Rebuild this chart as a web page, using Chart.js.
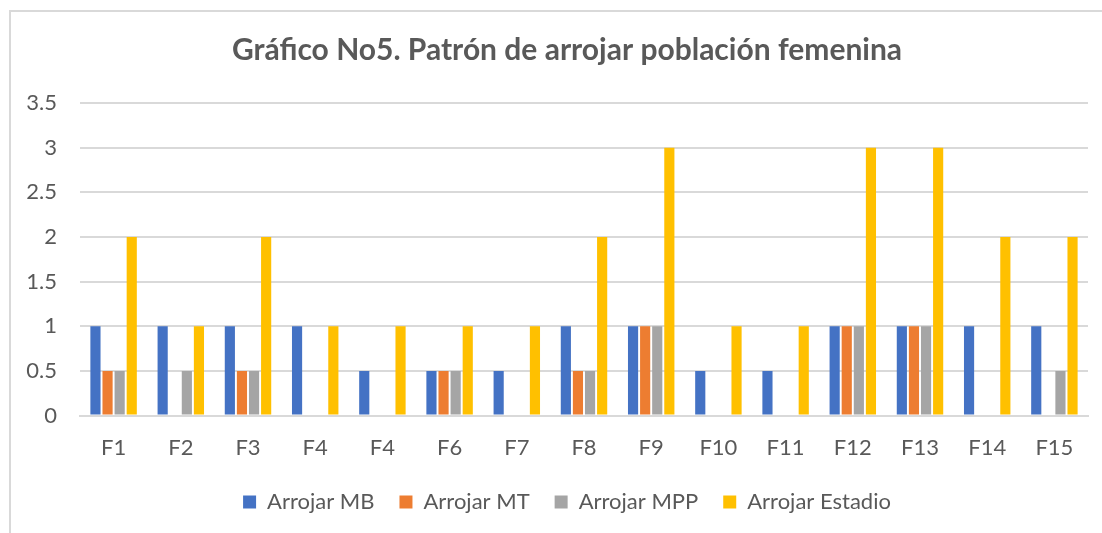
<!DOCTYPE html>
<html>
<head>
<meta charset="utf-8">
<script src="https://cdn.jsdelivr.net/npm/chart.js@4"></script>
<style>
  html, body { margin: 0; padding: 0; background: #fff; overflow: hidden; }
  #clip { width: 1102px; height: 533px; overflow: hidden; }
  #wrap { position: relative; width: 1132px; height: 533px; }
</style>
</head>
<body>
<div id="clip"><div id="wrap"><canvas id="chart"></canvas></div></div>
<script>
// Chart data
const categories = ['F1', 'F2', 'F3', 'F4', 'F4', 'F6', 'F7', 'F8', 'F9', 'F10', 'F11', 'F12', 'F13', 'F14', 'F15'];
const arrojarMB = [1, 1, 1, 1, 0.5, 0.5, 0.5, 1, 1, 0.5, 0.5, 1, 1, 1, 1];
const arrojarMT = [0.5, 0, 0.5, 0, 0, 0.5, 0, 0.5, 1, 0, 0, 1, 1, 0, 0];
const arrojarMPP = [0.5, 0.5, 0.5, 0, 0, 0.5, 0, 0.5, 1, 0, 0, 1, 1, 0, 0.5];
const arrojarEstadio = [2, 1, 2, 1, 1, 1, 1, 2, 3, 1, 1, 3, 3, 2, 2];
const yTicks = [0, 0.5, 1, 1.5, 2, 2.5, 3, 3.5];

const textColor = '#595959';
const gridColor = '#d9d9d9';
const fontFamily = 'Lato, "Open Sans", sans-serif';

// outer frame of the chart box (it runs past the right and bottom edge)
const frame = {
    id: 'frame',
    beforeDraw(chart) {
        const ctx = chart.ctx;
        ctx.save();
        ctx.fillStyle = '#fff';
        ctx.fillRect(0, 0, chart.width, chart.height);
        ctx.strokeStyle = gridColor;
        ctx.lineWidth = 2;
        ctx.strokeRect(10, 11, chart.width + 20, chart.height + 20);
        ctx.restore();
    }
};

function series(label, data, color) {
    return {
        label,
        data,
        backgroundColor: color,
        borderWidth: 0,
        barPercentage: 0.84,
        categoryPercentage: 0.72
    };
}

new Chart(document.getElementById('chart').getContext('2d'), {
    type: 'bar',
    data: {
        labels: categories,
        datasets: [
            series('Arrojar MB', arrojarMB, '#4472c4'),
            series('Arrojar MT', arrojarMT, '#ed7d31'),
            series('Arrojar MPP', arrojarMPP, '#a5a5a5'),
            series('Arrojar Estadio', arrojarEstadio, '#ffc000')
        ]
    },
    options: {
        responsive: true,
        maintainAspectRatio: false,
        animation: false,
        layout: {
            padding: { left: 16, right: 14, top: 0, bottom: 10 }
        },
        plugins: {
            title: {
                display: true,
                text: 'Gráfico No5. Patrón de arrojar población femenina',
                color: textColor,
                font: { family: fontFamily, size: 30, weight: 'bold' },
                padding: { top: 32, bottom: 35 }
            },
            legend: {
                position: 'bottom',
                labels: {
                    color: textColor,
                    font: { family: fontFamily, size: 22 },
                    boxWidth: 13,
                    boxHeight: 13,
                    padding: 25
                }
            },
            tooltip: { enabled: false }
        },
        scales: {
            x: {
                grid: { display: false, drawTicks: false },
                border: { color: gridColor, width: 2 },
                afterFit(scale) {
                    scale.height = scale.height - 14;
                },
                ticks: {
                    color: textColor,
                    font: { family: fontFamily, size: 22 },
                    padding: 19
                }
            },
            y: {
                min: 0,
                max: 3.5,
                afterBuildTicks(scale) {
                    scale.ticks = yTicks.map(v => ({ value: v }));
                },
                afterFit(scale) {
                    scale.width = 64;
                },
                grid: { color: gridColor, lineWidth: 2, drawTicks: false },
                border: { display: false },
                ticks: {
                    color: textColor,
                    font: { family: fontFamily, size: 22 },
                    padding: 23,
                    callback: v => String(v)
                }
            },
            // empty right-hand space so the plot ends where the reference does
            gap: {
                position: 'right',
                grid: { display: false, drawTicks: false },
                border: { display: false },
                ticks: { display: false },
                afterFit(scale) {
                    scale.width = 30;
                }
            }
        }
    },
    plugins: [frame]
});
</script>
</body>
</html>
